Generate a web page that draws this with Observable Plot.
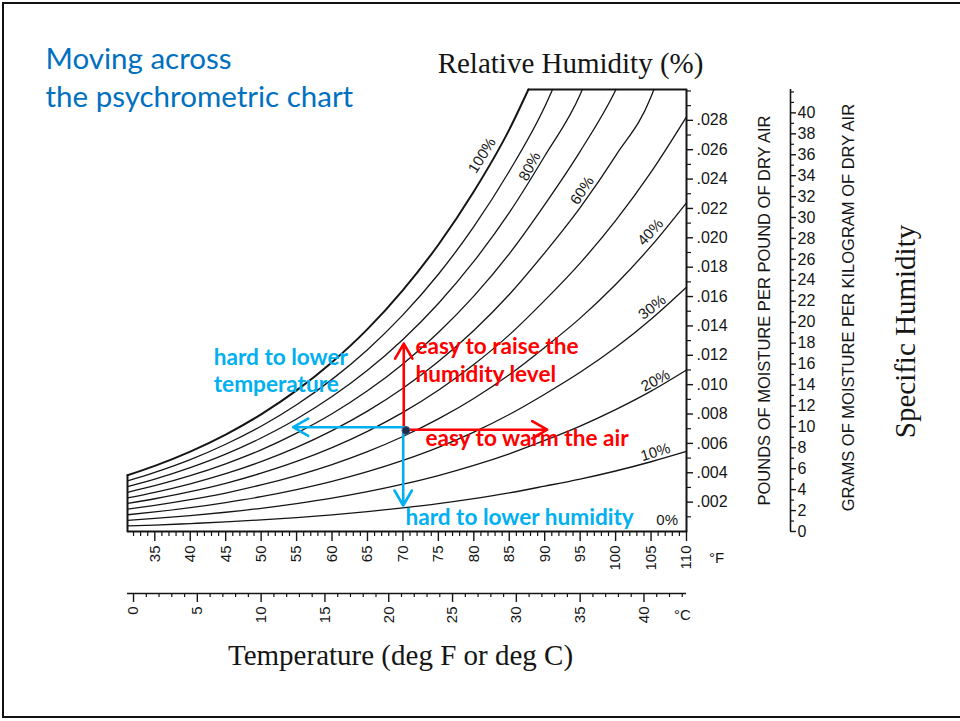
<!DOCTYPE html>
<html><head><meta charset="utf-8">
<script src="https://cdn.jsdelivr.net/npm/d3@7"></script>
<script src="https://cdn.jsdelivr.net/npm/@observablehq/plot@0.6"></script>
<style>
body{margin:0;background:#fff;}
#slide{position:relative;width:960px;height:721px;overflow:hidden;background:#fff;}
#border{position:absolute;left:2px;top:2px;width:990px;height:716px;border:2.5px solid #111;box-sizing:border-box;}
#chart{position:absolute;left:0;top:0;}
</style></head><body>
<div id="slide"><div id="border"></div><div id="chart"></div></div>
<script>
// Dry-bulb temperature (°F) at which each curve value was read
const temps = [31.15, 35, 40, 45, 50, 55, 60, 65, 70, 75, 80, 85, 90, 95, 100, 105, 110];
const rhLevels = [100, 90, 80, 70, 60, 50, 40, 30, 20, 10];
// humidity ratio (lb moisture / lb dry air)
const rh100 = [0.00383, 0.00447, 0.00544, 0.00660, 0.00798, 0.00961, 0.01153, 0.01378, 0.01644, 0.01953, 0.02315, 0.02737];
const rh90  = [0.00344, 0.00402, 0.00489, 0.00594, 0.00717, 0.00863, 0.01036, 0.01238, 0.01475, 0.01752, 0.02076, 0.02453, 0.02892];
const rh80  = [0.00306, 0.00357, 0.00435, 0.00527, 0.00637, 0.00766, 0.00919, 0.01098, 0.01308, 0.01553, 0.01839, 0.02171, 0.02557, 0.02976];
const rh70  = [0.00267, 0.00312, 0.00380, 0.00461, 0.00556, 0.00670, 0.00802, 0.00958, 0.01141, 0.01355, 0.01603, 0.01891, 0.02226, 0.02589, 0.03005];
const rh60  = [0.00229, 0.00267, 0.00325, 0.00394, 0.00476, 0.00573, 0.00687, 0.00820, 0.00976, 0.01157, 0.01369, 0.01614, 0.01898, 0.02206, 0.02558, 0.02960];
const rh50  = [0.00191, 0.00223, 0.00271, 0.00328, 0.00397, 0.00477, 0.00571, 0.00682, 0.00811, 0.00962, 0.01137, 0.01339, 0.01574, 0.01828, 0.02117, 0.02447, 0.02824];
const rh40  = [0.00152, 0.00178, 0.00217, 0.00262, 0.00317, 0.00381, 0.00456, 0.00544, 0.00647, 0.00767, 0.00906, 0.01067, 0.01253, 0.01453, 0.01682, 0.01943, 0.02239];
const rh30  = [0.00114, 0.00133, 0.00162, 0.00197, 0.00237, 0.00285, 0.00341, 0.00407, 0.00484, 0.00573, 0.00677, 0.00797, 0.00935, 0.01084, 0.01253, 0.01446, 0.01664];
const rh20  = [0.00076, 0.00089, 0.00108, 0.00131, 0.00158, 0.00190, 0.00227, 0.00271, 0.00322, 0.00381, 0.00450, 0.00529, 0.00620, 0.00718, 0.00830, 0.00956, 0.01100];
const rh10  = [0.00038, 0.00044, 0.00054, 0.00065, 0.00079, 0.00095, 0.00113, 0.00135, 0.00161, 0.00190, 0.00224, 0.00263, 0.00309, 0.00357, 0.00412, 0.00475, 0.00545];
const rhSeries = [rh100, rh90, rh80, rh70, rh60, rh50, rh40, rh30, rh20, rh10];
// temperature where a curve meets the chart's top edge
const topCrossT = [87.7, 91.1, 95.3, 100.05, 105.4, null, null, null, null, null];
const chartTop = 0.0301;
const tMin = 31.15, tMax = 110;

// tick labels
const fLabels = [35, 40, 45, 50, 55, 60, 65, 70, 75, 80, 85, 90, 95, 100, 105, 110];
const cLabels = [0, 5, 10, 15, 20, 25, 30, 35, 40];
const poundLabels = [".002", ".004", ".006", ".008", ".010", ".012", ".014", ".016", ".018", ".020", ".022", ".024", ".026", ".028"];
const gramLabels = [0, 2, 4, 6, 8, 10, 12, 14, 16, 18, 20, 22, 24, 26, 28, 30, 32, 34, 36, 38, 40];
const rhLabels = ["100%", "80%", "60%", "40%", "30%", "20%", "10%", "0%"];

// layout helpers (positions in data units)
const gramPerW = 0.0007127;     // 1 g/kg on the right-hand scale, in lb/lb units
const gramAxisT = 124.67;
const celsiusAxisW = -0.00422;
const cToF = c => c * 1.8 + 32;

const curveRows = rhLevels.flatMap((rh, i) => {
  const rows = rhSeries[i].map((w, j) => ({rh, t: temps[j], w}));
  if (topCrossT[i] != null) rows.push({rh, t: topCrossT[i], w: chartTop});
  return rows;
});
const boundary = [
  {t: topCrossT[0], w: chartTop}, {t: tMax, w: chartTop}, {t: tMax, w: 0},
  {t: tMin, w: 0}, {t: tMin, w: rh100[0]}
];
const fMinor = d3.range(32, 111).filter(f => f % 5 !== 0);
const fMajor = fLabels;
const cMinor = d3.range(0, 44).filter(c => c % 5 !== 0).map(cToF);
const cMajor = cLabels.map(cToF);
const poundMinor = d3.range(1, 31).filter(k => k % 2 !== 0 || k > 28).map(k => k / 1000);
const poundMajor = poundLabels.map(s => +("0" + s));
const gramMinor = d3.range(1, 43).filter(g => g % 2 !== 0 || g > 40);

const rhLabelPos = [
  {t: 81.18, w: 0.02561, r: -58}, {t: 87.9, w: 0.02486, r: -62}, {t: 95.29, w: 0.02322, r: -57},
  {t: 104.92, w: 0.02038, r: -48}, {t: 105.16, w: 0.01527, r: -38}, {t: 105.63, w: 0.01028, r: -28},
  {t: 105.63, w: 0.0054, r: -17}, {t: 107.28, w: 0.00075, r: 0}
].map((d, i) => ({...d, label: rhLabels[i]}));

const SANS = "Liberation Sans, Arial, sans-serif";
const SERIF = "Liberation Serif, Times New Roman, serif";
const SLIDE = "Lato, Open Sans, sans-serif";
const INK = "#151515";
const RED = "#ff0000", BLUE = "#00b0f0";

const one = [0];

const chart = Plot.plot({
  width: 960, height: 721,
  marginLeft: 127, marginRight: 274, marginTop: 89, marginBottom: 190,
  x: {domain: [tMin, tMax], axis: null},
  y: {domain: [0, chartTop], axis: null},
  style: {background: "transparent", fontFamily: SANS, overflow: "visible"},
  marks: [
    // RH curves
    Plot.line(curveRows.filter(d => d.rh !== 100), {x: "t", y: "w", z: "rh", curve: "monotone-x", stroke: INK, strokeWidth: 1.3}),
    Plot.line(curveRows.filter(d => d.rh === 100), {x: "t", y: "w", curve: "monotone-x", stroke: INK, strokeWidth: 2}),
    Plot.line(boundary, {x: "t", y: "w", stroke: INK, strokeWidth: 2}),
    // °F axis
    Plot.ruleX(fMinor, {x: d => d, y1: 0, y2: 0, insetBottom: -5, stroke: INK, strokeWidth: 1.2}),
    Plot.ruleX(fMajor, {x: d => d, y1: 0, y2: 0, insetBottom: -10, stroke: INK, strokeWidth: 1.4}),
    Plot.text(fLabels, {x: d => d, y: 0, dy: 14, text: d => String(d), rotate: -90, textAnchor: "end", fontSize: 15, fill: INK}),
    Plot.text(one, {x: tMax, y: 0, dx: 30, dy: 27, text: () => "°F", fontSize: 15, fill: INK}),
    // °C axis
    Plot.ruleY(one, {y: celsiusAxisW, x1: tMin, x2: tMax, stroke: INK, strokeWidth: 1.6}),
    Plot.ruleX(cMinor, {x: d => d, y1: celsiusAxisW, y2: celsiusAxisW, insetBottom: -4, stroke: INK, strokeWidth: 1.2}),
    Plot.ruleX(cMajor, {x: d => d, y1: celsiusAxisW, y2: celsiusAxisW, insetBottom: -9, stroke: INK, strokeWidth: 1.4}),
    Plot.text(cLabels, {x: d => cToF(d), y: celsiusAxisW, dy: 13, text: d => String(d), rotate: -90, textAnchor: "end", fontSize: 15, fill: INK}),
    Plot.text(one, {x: tMax, y: celsiusAxisW, dx: -4, dy: 22, text: () => "°C", fontSize: 15, fill: INK}),
    Plot.text(one, {x: 69.66, y: celsiusAxisW, dy: 62, text: () => "Temperature (deg F or deg C)", fontFamily: SERIF, fontSize: 29, fill: INK}),
    // pounds axis
    Plot.ruleY(poundMinor, {y: d => d, x1: tMax, x2: tMax, insetRight: -5, stroke: INK, strokeWidth: 1.2}),
    Plot.ruleY(poundMajor, {y: d => d, x1: tMax, x2: tMax, insetRight: -7, stroke: INK, strokeWidth: 1.4}),
    Plot.text(poundLabels, {x: tMax, y: d => +("0" + d), dx: 10, text: d => d, textAnchor: "start", fontSize: 16, fill: INK}),
    Plot.text(one, {x: tMax, y: 0.01505, dx: 78, text: () => "POUNDS OF MOISTURE PER POUND OF DRY AIR", rotate: -90, fontSize: 16.5, fill: INK}),
    // grams axis
    Plot.ruleX(one, {x: gramAxisT, y1: 0, y2: chartTop, stroke: INK, strokeWidth: 1.6}),
    Plot.ruleY(gramMinor, {y: d => d * gramPerW, x1: gramAxisT, x2: gramAxisT, insetRight: -4, stroke: INK, strokeWidth: 1.2}),
    Plot.ruleY(gramLabels, {y: d => d * gramPerW, x1: gramAxisT, x2: gramAxisT, insetRight: -6, stroke: INK, strokeWidth: 1.4}),
    Plot.text(gramLabels, {x: gramAxisT, y: d => d * gramPerW, dx: 7, text: d => String(d), textAnchor: "start", fontSize: 16, fill: INK}),
    Plot.text(one, {x: gramAxisT, y: 0.01525, dx: 58, text: () => "GRAMS OF MOISTURE PER KILOGRAM OF DRY AIR", rotate: -90, fontSize: 16.5, fill: INK}),
    Plot.text(one, {x: gramAxisT, y: 0.01362, dx: 115, text: () => "Specific Humidity", rotate: -90, fontFamily: SERIF, fontSize: 29, fill: INK}),
    // titles
    Plot.text(one, {x: 93.64, y: chartTop, dy: -26, text: () => "Relative Humidity (%)", fontFamily: SERIF, fontSize: 29, fill: INK}),
    Plot.text(rhLabelPos, {x: "t", y: "w", text: "label", rotate: "r", fontSize: 15, fill: INK}),
    Plot.text(one, {x: tMin, y: chartTop, dx: -82, dy: -20.7, text: () => "Moving across", textAnchor: "start", lineAnchor: "bottom", fontFamily: SLIDE, fontSize: 29.5, fill: "#0070c0"}),
    Plot.text(one, {x: tMin, y: chartTop, dx: -82, dy: 17, text: () => "the psychrometric chart", textAnchor: "start", lineAnchor: "bottom", fontFamily: SLIDE, fontSize: 29.5, fill: "#0070c0"}),
    // annotation arrows
    Plot.arrow(one, {x1: 70.12, y1: 0.00688, x2: 70.12, y2: 0.0128, stroke: RED, strokeWidth: 2.6, headLength: 10}),
    Plot.arrow(one, {x1: 70.43, y1: 0.00693, x2: 90.35, y2: 0.00693, stroke: RED, strokeWidth: 2.6, headLength: 10}),
    Plot.arrow(one, {x1: 70.3, y1: 0.0071, x2: 54.52, y2: 0.0071, stroke: BLUE, strokeWidth: 2.6, headLength: 10}),
    Plot.arrow(one, {x1: 70.04, y1: 0.00688, x2: 70.04, y2: 0.00177, stroke: BLUE, strokeWidth: 2.6, headLength: 10}),
    Plot.dot(one, {x: 70.43, y: 0.00688, r: 4, fill: "#1d2b4a", stroke: "#4d6285", strokeWidth: 1}),
    // annotation texts
    Plot.text(one, {x: 71.77, y: 0.0121, text: () => "easy to raise the", textAnchor: "start", lineAnchor: "bottom", fontFamily: SLIDE, fontWeight: "bold", fontSize: 22.6, fill: RED}),
    Plot.text(one, {x: 71.77, y: 0.01017, text: () => "humidity level", textAnchor: "start", lineAnchor: "bottom", fontFamily: SLIDE, fontWeight: "bold", fontSize: 22.6, fill: RED}),
    Plot.text(one, {x: 73.19, y: 0.00579, text: () => "easy to warm the air", textAnchor: "start", lineAnchor: "bottom", fontFamily: SLIDE, fontWeight: "bold", fontSize: 22.6, fill: RED}),
    Plot.text(one, {x: 70.36, y: 0.00041, text: () => "hard to lower humidity", textAnchor: "start", lineAnchor: "bottom", fontFamily: SLIDE, fontWeight: "bold", fontSize: 22.6, fill: BLUE}),
    Plot.text(one, {x: 43.32, y: 0.01135, text: () => "hard to lower", textAnchor: "start", lineAnchor: "bottom", fontFamily: SLIDE, fontWeight: "bold", fontSize: 22.6, fill: BLUE}),
    Plot.text(one, {x: 43.32, y: 0.00949, text: () => "temperature", textAnchor: "start", lineAnchor: "bottom", fontFamily: SLIDE, fontWeight: "bold", fontSize: 22.6, fill: BLUE})
  ]
});
document.getElementById("chart").append(chart);
</script>
</body></html>
